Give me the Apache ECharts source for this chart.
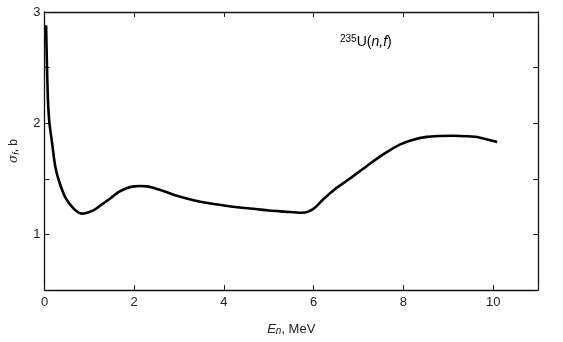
<!DOCTYPE html>
<html>
<head>
<meta charset="utf-8">
<script src="https://cdn.jsdelivr.net/npm/echarts@6/dist/echarts.min.js"></script>
<style>
  html, body { margin: 0; padding: 0; background: #fff; }
  #chart { width: 563px; height: 342px; }
</style>
</head>
<body>
<div id="chart"></div>
<script>
// Neutron energy (MeV) and fission cross section of U-235 (barns)
const energyMeV = [0.035, 0.05, 0.065, 0.08, 0.11, 0.17, 0.24, 0.315, 0.46, 0.65, 0.83, 1.09, 1.28, 1.47, 1.65, 1.83, 2.0, 2.13, 2.28, 2.42, 2.65, 2.93, 3.3, 3.67, 4.0, 4.4, 4.7, 5.0, 5.35, 5.73, 5.88, 6.01, 6.2, 6.45, 6.8, 7.2, 7.55, 7.93, 8.2, 8.52, 8.8, 9.1, 9.4, 9.69, 10.09];
const sigmaBarn = [2.88, 2.6, 2.36, 2.18, 2.0, 1.82, 1.61, 1.49, 1.336, 1.232, 1.187, 1.216, 1.27, 1.325, 1.38, 1.415, 1.432, 1.435, 1.432, 1.42, 1.39, 1.35, 1.31, 1.28, 1.26, 1.24, 1.228, 1.215, 1.205, 1.195, 1.205, 1.235, 1.31, 1.4, 1.5, 1.62, 1.72, 1.81, 1.85, 1.877, 1.885, 1.887, 1.883, 1.872, 1.83];

const xTicks = [0, 2, 4, 6, 8, 10];
const yLabels = [1, 2, 3];

const points = energyMeV.map((e, i) => [e, sigmaBarn[i]]);

const chart = echarts.init(document.getElementById('chart'), null, { renderer: 'canvas' });

const axisLine = { show: true, onZero: false, lineStyle: { color: '#111', width: 1.3 } };
const tickStyle = { show: true, inside: true, length: 5, lineStyle: { color: '#222', width: 1 } };
const labelFont = { fontFamily: 'Liberation Sans, Arial, sans-serif', fontSize: 13, color: '#222' };

chart.setOption({
  animation: false,
  backgroundColor: '#fff',
  grid: { left: 40, right: 25, top: 12, bottom: 52 },
  xAxis: [
    {
      type: 'value', min: 0, max: 11, interval: 2, position: 'bottom',
      axisLine: axisLine, axisTick: tickStyle, splitLine: { show: false },
      axisLabel: Object.assign({}, labelFont, {
        margin: 6,
        formatter: v => (xTicks.indexOf(v) >= 0 ? String(v) : '')
      }),
      name: '{e|E}{n|n}{t|, MeV}', nameLocation: 'middle', nameGap: 32,
      nameTextStyle: {
        rich: {
          e: { fontFamily: 'Liberation Sans, Arial', fontStyle: 'italic', fontSize: 13, color: '#222' },
          n: { fontFamily: 'Liberation Sans, Arial', fontStyle: 'italic', fontSize: 10, color: '#222', verticalAlign: 'bottom', padding: [4, 0, 0, 0] },
          t: { fontFamily: 'Liberation Sans, Arial', fontSize: 13, color: '#222' }
        }
      }
    },
    {
      type: 'value', min: 0, max: 11, interval: 2, position: 'top',
      axisLine: axisLine, axisTick: tickStyle, splitLine: { show: false },
      axisLabel: { show: false }
    }
  ],
  yAxis: [
    {
      type: 'value', min: 0.5, max: 3, interval: 0.5, position: 'left',
      axisLine: axisLine, axisTick: tickStyle, splitLine: { show: false },
      axisLabel: Object.assign({}, labelFont, {
        margin: 4,
        formatter: v => (yLabels.indexOf(v) >= 0 ? String(v) : '')
      }),
      name: '{s|σ}{f|f}{t|, b}', nameLocation: 'middle', nameGap: 24, nameRotate: 90,
      nameTextStyle: {
        rich: {
          s: { fontFamily: 'DejaVu Serif, serif', fontStyle: 'italic', fontSize: 12, color: '#222' },
          f: { fontFamily: 'Liberation Sans, Arial', fontStyle: 'italic', fontSize: 9, color: '#222', padding: [4, 0, 0, 0] },
          t: { fontFamily: 'Liberation Sans, Arial', fontSize: 12, color: '#222' }
        }
      }
    },
    {
      type: 'value', min: 0.5, max: 3, interval: 0.5, position: 'right',
      axisLine: axisLine, axisTick: tickStyle, splitLine: { show: false },
      axisLabel: { show: false }
    }
  ],
  graphic: [
    {
      type: 'text', left: 340, top: 34,
      style: {
        text: '{sup|235}{m|U(}{i|n,f}{m|)}',
        rich: {
          sup: { fontFamily: 'Liberation Sans, Arial', fontSize: 10, color: '#222', padding: [0, 0, 7, 0] },
          m: { fontFamily: 'Liberation Sans, Arial', fontSize: 14, color: '#222' },
          i: { fontFamily: 'Liberation Sans, Arial', fontStyle: 'italic', fontSize: 14, color: '#222' }
        }
      }
    }
  ],
  series: [
    {
      type: 'line', xAxisIndex: 0, yAxisIndex: 0,
      data: points, smooth: 0.3, showSymbol: false,
      lineStyle: { color: '#000', width: 2.6 }
    }
  ]
});
</script>
</body>
</html>
